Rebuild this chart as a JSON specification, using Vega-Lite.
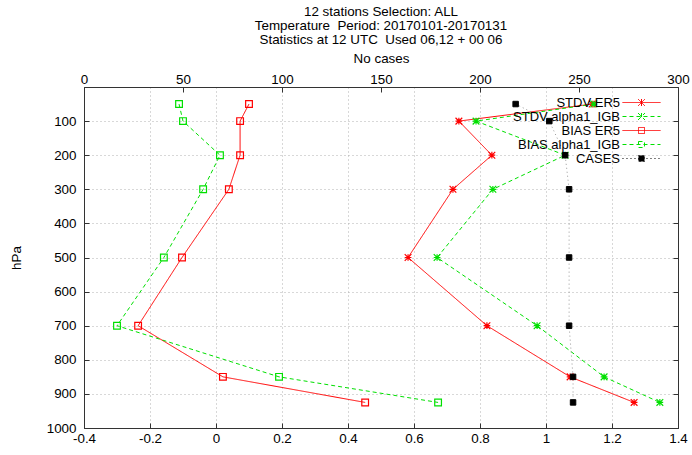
{
  "$schema": "https://vega.github.io/schema/vega-lite/v6.json",
  "width": 594,
  "height": 341,
  "autosize": "none",
  "padding": {"left": 84, "top": 87, "right": 14, "bottom": 27},
  "background": "white",
  "title": {
    "text": ["12 stations Selection: ALL", "Temperature \u00a0Period: 20170101-20170131", "Statistics at 12 UTC \u00a0Used 06,12 + 00 06"],
    "anchor": "middle",
    "frame": "group",
    "font": "Liberation Sans",
    "fontSize": 13.4,
    "fontWeight": "normal",
    "lineHeight": 14,
    "color": "#000",
    "offset": 5
  },
  "config": {
    "view": {"stroke": "#333", "strokeWidth": 1},
    "font": "Liberation Sans",
    "axis": {
      "labelFont": "Liberation Sans",
      "labelFontSize": 13.4,
      "labelColor": "#000",
      "labelFlush": false,
      "titleFont": "Liberation Sans",
      "titleFontSize": 13.4,
      "titleFontWeight": "normal",
      "titleColor": "#000",
      "domainColor": "#333",
      "tickColor": "#333",
      "gridColor": "#b0b0b0",
      "gridDash": [1, 3]
    },
    "legend": {
      "labelFont": "Liberation Sans",
      "labelFontSize": 13,
      "labelColor": "#000"
    }
  },
  "datasets": {
    "prof": [
      {"series": "STDV ER5", "p": 50, "v": 1.14},
      {"series": "STDV ER5", "p": 100, "v": 0.736},
      {"series": "STDV ER5", "p": 200, "v": 0.836},
      {"series": "STDV ER5", "p": 300, "v": 0.718},
      {"series": "STDV ER5", "p": 500, "v": 0.582},
      {"series": "STDV ER5", "p": 700, "v": 0.821},
      {"series": "STDV ER5", "p": 850, "v": 1.073},
      {"series": "STDV ER5", "p": 925, "v": 1.267},
      {"series": "STDV alpha1_IGB", "p": 50, "v": 1.145},
      {"series": "STDV alpha1_IGB", "p": 100, "v": 0.788},
      {"series": "STDV alpha1_IGB", "p": 200, "v": 1.058},
      {"series": "STDV alpha1_IGB", "p": 300, "v": 0.839},
      {"series": "STDV alpha1_IGB", "p": 500, "v": 0.67},
      {"series": "STDV alpha1_IGB", "p": 700, "v": 0.973},
      {"series": "STDV alpha1_IGB", "p": 850, "v": 1.176},
      {"series": "STDV alpha1_IGB", "p": 925, "v": 1.345},
      {"series": "BIAS ER5", "p": 50, "v": 0.1},
      {"series": "BIAS ER5", "p": 100, "v": 0.073},
      {"series": "BIAS ER5", "p": 200, "v": 0.073},
      {"series": "BIAS ER5", "p": 300, "v": 0.039},
      {"series": "BIAS ER5", "p": 500, "v": -0.103},
      {"series": "BIAS ER5", "p": 700, "v": -0.236},
      {"series": "BIAS ER5", "p": 850, "v": 0.021},
      {"series": "BIAS ER5", "p": 925, "v": 0.452},
      {"series": "BIAS alpha1_IGB", "p": 50, "v": -0.112},
      {"series": "BIAS alpha1_IGB", "p": 100, "v": -0.1},
      {"series": "BIAS alpha1_IGB", "p": 200, "v": 0.012},
      {"series": "BIAS alpha1_IGB", "p": 300, "v": -0.039},
      {"series": "BIAS alpha1_IGB", "p": 500, "v": -0.158},
      {"series": "BIAS alpha1_IGB", "p": 700, "v": -0.3},
      {"series": "BIAS alpha1_IGB", "p": 850, "v": 0.191},
      {"series": "BIAS alpha1_IGB", "p": 925, "v": 0.673}
    ],
    "cases": [
      {"series": "CASES", "p": 50, "n": 218},
      {"series": "CASES", "p": 100, "n": 235},
      {"series": "CASES", "p": 200, "n": 243},
      {"series": "CASES", "p": 300, "n": 245},
      {"series": "CASES", "p": 500, "n": 245},
      {"series": "CASES", "p": 700, "n": 245},
      {"series": "CASES", "p": 850, "n": 247},
      {"series": "CASES", "p": 925, "n": 247}
    ]
  },
  "layer": [
    {
      "data": {"name": "prof"},
      "encoding": {
        "x": {
          "field": "v", "type": "quantitative",
          "scale": {"domain": [-0.4, 1.4], "nice": false, "zero": false},
          "axis": {
            "orient": "bottom", "title": null,
            "values": [-0.4, -0.2, 0, 0.2, 0.4, 0.6, 0.8, 1, 1.2, 1.4],
            "labelExpr": "toString(round(datum.value*10)/10)",
            "grid": true, "tickSize": -5, "labelPadding": 8
          }
        },
        "y": {
          "field": "p", "type": "quantitative",
          "scale": {"domain": [0, 1000], "reverse": true, "nice": false},
          "axis": {
            "orient": "left", "title": "hPa", "titlePadding": 23,
            "values": [100, 200, 300, 400, 500, 600, 700, 800, 900, 1000],
            "format": "d", "grid": true, "tickSize": -5, "labelPadding": 13
          }
        },
        "color": {
          "field": "series", "type": "nominal", "title": null,
          "scale": {
            "domain": ["STDV ER5", "STDV alpha1_IGB", "BIAS ER5", "BIAS alpha1_IGB", "CASES"],
            "range": ["#ff0000", "#00e000", "#ff0000", "#00e000", "#000000"]
          },
          "legend": {
            "orient": "none", "legendX": 551, "legendY": 9, "rowPadding": 0,
            "labelAlign": "right", "labelOffset": -28,
            "symbolStrokeWidth": 1, "symbolSize": 49,
            "encoding": {
              "symbols": {
                "shape": {"value": {"expr": "indexof(datum.value, 'STDV') == 0 ? 'M-5.43,0L5.43,0M-1,-1L1,1M-1,1L1,-1M0,-1L0,1' : 'M-5.43,0L5.43,0M-0.86,-0.86L0.86,-0.86L0.86,0.86L-0.86,0.86Z'"}},
                "fill": {"value": {"expr": "datum.value == 'CASES' ? '#000' : 'transparent'"}},
                "size": {"value": 49}
              }
            }
          }
        },
        "order": {"field": "p", "type": "quantitative"}
      },
      "layer": [
        {
          "mark": {"type": "line", "strokeWidth": 1},
          "encoding": {
            "strokeDash": {
              "field": "series", "type": "nominal", "title": null,
              "scale": {
                "domain": ["STDV ER5", "STDV alpha1_IGB", "BIAS ER5", "BIAS alpha1_IGB", "CASES"],
                "range": [[1, 0], [4, 3], [1, 0], [4, 3], [1, 3]]
              }
            }
          }
        },
        {
          "transform": [{"filter": "indexof(datum.series, 'STDV') == 0"}],
          "mark": {"type": "point", "filled": false, "strokeWidth": 1.2, "opacity": 1, "size": 45, "shape": "M-1,-1L1,1M-1,1L1,-1M0,-1L0,1M-1,0L1,0"}
        },
        {
          "transform": [{"filter": "indexof(datum.series, 'BIAS') == 0"}],
          "mark": {"type": "point", "filled": false, "strokeWidth": 1.2, "opacity": 1, "size": 45, "shape": "square"}
        }
      ]
    },
    {
      "data": {"name": "cases"},
      "encoding": {
        "x": {
          "field": "n", "type": "quantitative",
          "scale": {"domain": [0, 300], "nice": false, "zero": false},
          "axis": {
            "orient": "top", "title": "No cases", "titlePadding": 7,
            "values": [0, 50, 100, 150, 200, 250, 300],
            "grid": false, "tickSize": -5, "labelPadding": 6
          }
        },
        "y": {
          "field": "p", "type": "quantitative",
          "scale": {"domain": [0, 1000], "reverse": true, "nice": false},
          "axis": {
            "orient": "right", "title": null, "labels": false,
            "values": [100, 200, 300, 400, 500, 600, 700, 800, 900, 1000],
            "grid": false, "tickSize": -5
          }
        },
        "order": {"field": "p", "type": "quantitative"}
      },
      "layer": [
        {
          "mark": {"type": "line", "strokeWidth": 1, "color": "#999999", "strokeDash": [1, 3]}
        },
        {
          "mark": {"type": "point", "filled": false, "fill": "#000", "opacity": 1, "size": 30, "shape": "square", "strokeWidth": 1},
          "encoding": {
            "color": {
              "field": "series", "type": "nominal", "title": null,
              "legend": {
                "orient": "none", "legendX": 551, "legendY": 9, "rowPadding": 0,
                "labelAlign": "right", "labelOffset": -28,
                "symbolStrokeWidth": 1, "symbolSize": 49,
                "encoding": {
                  "symbols": {
                    "shape": {"value": {"expr": "indexof(datum.value, 'STDV') == 0 ? 'M-5.43,0L5.43,0M-1,-1L1,1M-1,1L1,-1M0,-1L0,1' : 'M-5.43,0L5.43,0M-0.86,-0.86L0.86,-0.86L0.86,0.86L-0.86,0.86Z'"}},
                    "fill": {"value": {"expr": "datum.value == 'CASES' ? '#000' : 'transparent'"}},
                    "size": {"value": 49}
                  }
                }
              }
            }
          }
        }
      ]
    }
  ],
  "resolve": {"scale": {"x": "independent"}, "axis": {"x": "independent", "y": "independent"}}
}
